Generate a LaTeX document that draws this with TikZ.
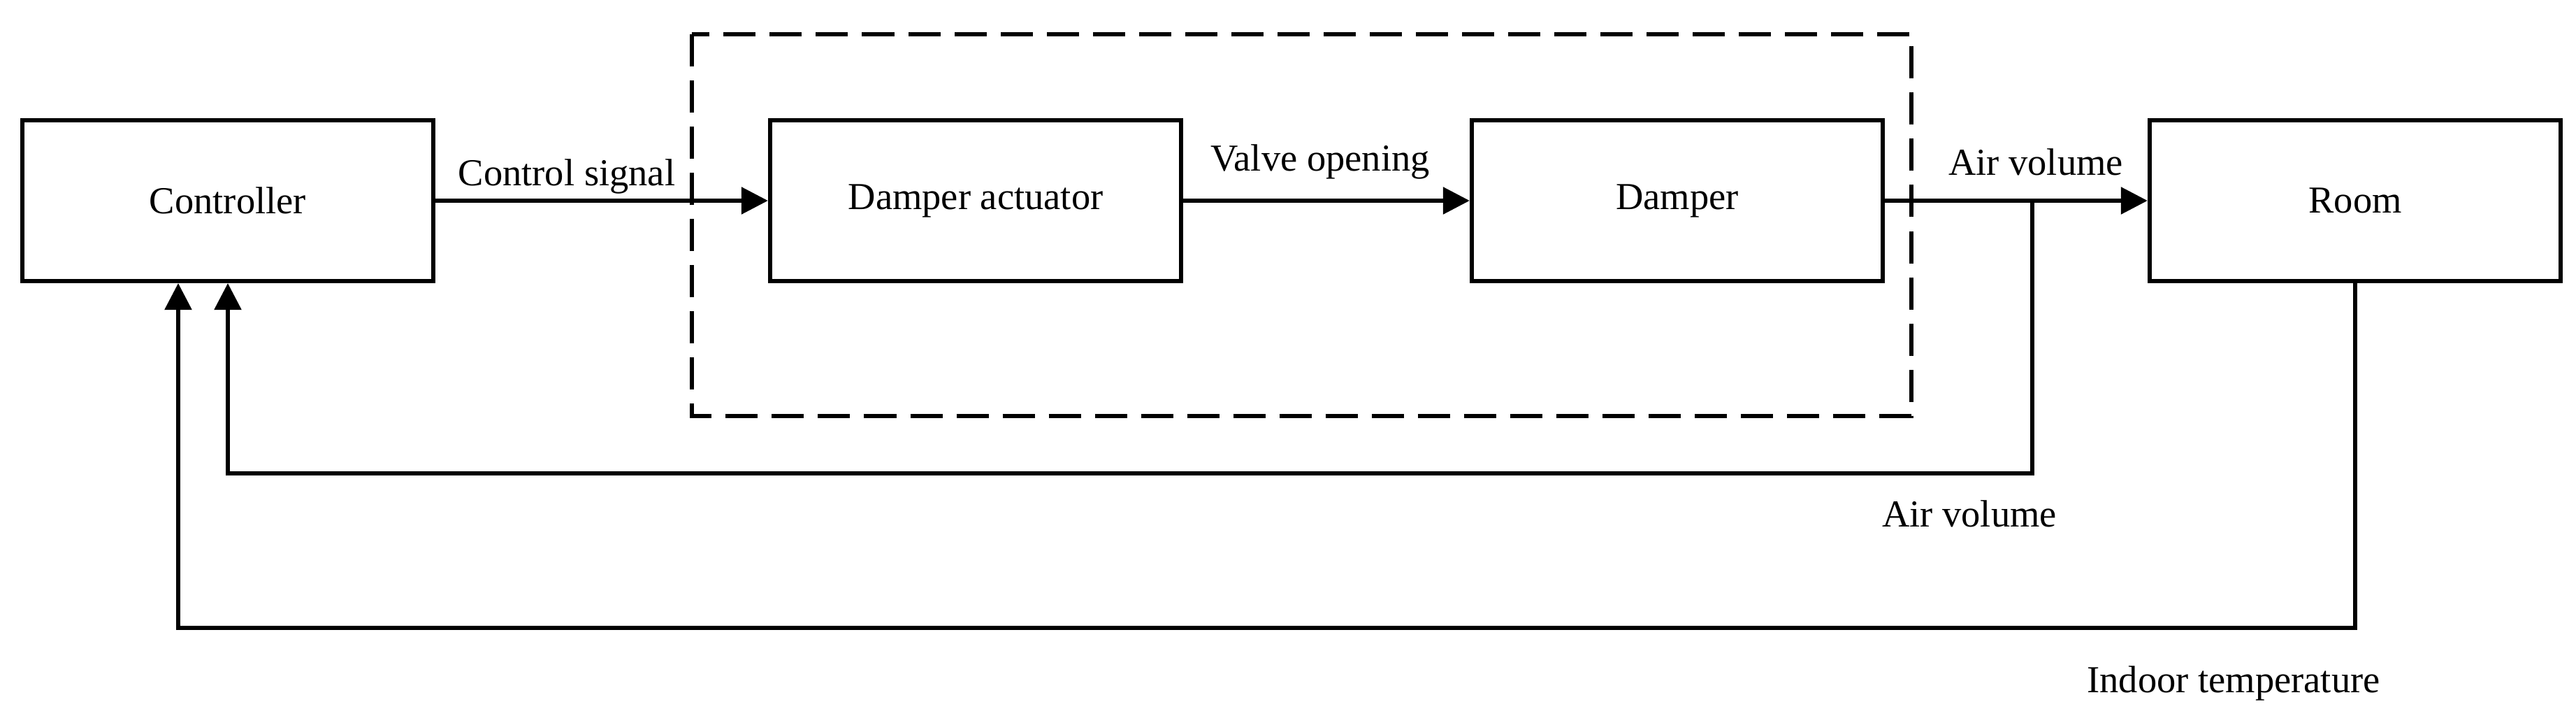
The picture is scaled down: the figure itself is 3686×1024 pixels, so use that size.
\documentclass[tikz,border=0pt]{standalone}
\usepackage{fontspec}
\setmainfont{Liberation Serif}
\usepackage{tikz}
\usetikzlibrary{arrows.meta}

\tikzset{
	block/.style={draw, line width=1.7pt, minimum width=5.88cm, minimum height=2.3cm, inner sep=0pt},
	flow/.style={line width=1.6pt, -{Triangle[length=0.38cm, width=0.38cm]}},
	wire/.style={line width=1.6pt},
	groupbox/.style={line width=1.6pt, dash pattern=on 0.46cm off 0.2cm},
	lbl/.style={anchor=base, inner sep=0pt}
}

\begin{document}
\begin{tikzpicture}[x=0.01cm, y=-0.01cm, font=\fontsize{15.5}{18}\selectfont]
	\useasboundingbox (0, 0) rectangle (3686, 1024);
	% blocks
	\node[block] (ctrl) at (326, 287) {Controller};
	\node[block] (act) at (1396, 287) {Damper actuator};
	\node[block] (damp) at (2400, 287) {Damper};
	\node[block] (room) at (3370, 287) {Room};
	\draw[groupbox] (990, 49) rectangle (2735, 595);
	% forward path
	\draw[flow] (ctrl.east) -- (act.west);
	\draw[flow] (act.east) -- (damp.west);
	\draw[flow] (damp.east) -- (room.west);
	\node[lbl] at (811, 265) {Control signal};
	\node[lbl] at (1889, 244) {Valve opening};
	\node[lbl] at (2913, 250) {Air volume};
	% feedback paths
	\coordinate (br) at (2908, 287);
	\coordinate (fb1) at (2908, 677);
	\coordinate (fb2) at (255, 898);
	\draw[flow] (br) -- (fb1) -| (ctrl.south);
	\draw[flow] (room.south) |- (fb2) -- (ctrl.south -| fb2);
	\node[lbl] at (2818, 753) {Air volume};
	\node[lbl] at (3196, 990) {Indoor temperature};
\end{tikzpicture}
\end{document}
